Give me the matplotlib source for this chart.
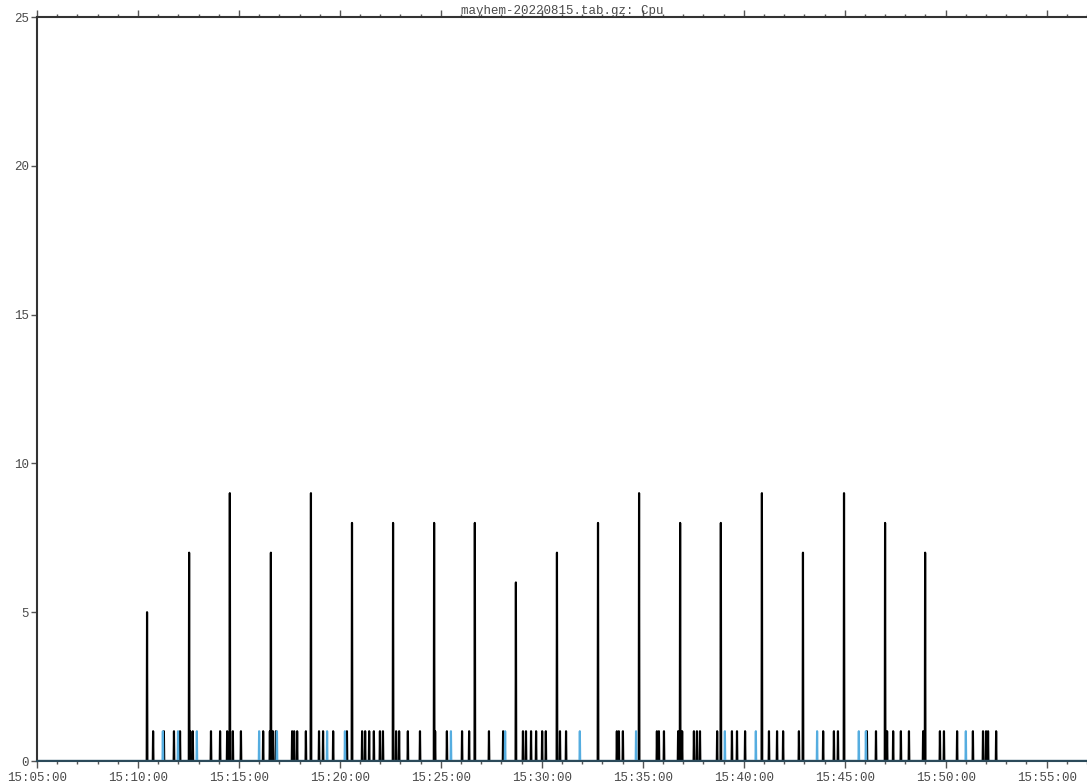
import datetime as dt

import matplotlib
matplotlib.use("Agg")
import matplotlib.pyplot as plt
import matplotlib.dates as mdates
import matplotlib.transforms as mtransforms
import numpy as np

TITLE = "mayhem-20220815.tab.gz: Cpu"
DAY = "2022-08-15"
START = "15:05:00"
END = "15:57:00"

# Busy peaks of the main series (time, percent)
peak_times = ["15:10:27", "15:12:32", "15:14:33", "15:16:35", "15:18:34",
              "15:20:36", "15:22:38", "15:24:40", "15:26:41", "15:28:43",
              "15:30:45", "15:32:47", "15:34:49", "15:36:51", "15:38:52",
              "15:40:54", "15:42:56", "15:44:58", "15:47:00", "15:48:59"]
peak_values = [5, 7, 9, 7, 9, 8, 8, 8, 8, 6, 7, 8, 9, 8, 8, 9, 7, 9, 8, 7]

# Short 1 % blips of the main series
main_blips = ["15:10:45", "15:11:17", "15:11:47", "15:12:05", "15:12:35",
              "15:12:43", "15:13:37", "15:14:04", "15:14:25", "15:14:42",
              "15:15:06", "15:16:12", "15:16:32", "15:16:41", "15:16:50",
              "15:17:38", "15:17:44", "15:17:53", "15:18:19", "15:18:58",
              "15:19:10", "15:19:40", "15:20:21", "15:21:06", "15:21:15",
              "15:21:27", "15:21:41", "15:21:59", "15:22:08", "15:22:47",
              "15:22:56", "15:23:22", "15:23:58", "15:24:43", "15:25:18",
              "15:26:03", "15:26:24", "15:27:23", "15:28:05", "15:29:04",
              "15:29:13", "15:29:28", "15:29:43", "15:30:01", "15:30:12",
              "15:30:54", "15:31:12", "15:33:43", "15:33:49", "15:34:01",
              "15:35:42", "15:35:48", "15:36:03", "15:36:45", "15:36:57",
              "15:37:32", "15:37:41", "15:37:50", "15:38:41", "15:39:25",
              "15:39:40", "15:40:04", "15:41:15", "15:41:39", "15:41:57",
              "15:42:44", "15:43:56", "15:44:28", "15:44:40", "15:46:06",
              "15:46:33", "15:47:06", "15:47:24", "15:47:47", "15:48:11",
              "15:48:53", "15:49:43", "15:49:55", "15:50:34", "15:51:21",
              "15:51:51", "15:52:00", "15:52:06", "15:52:30"]

# Short 1 % blips of the second series
second_blips = ["15:11:14", "15:11:59", "15:12:55", "15:16:00", "15:16:53",
                "15:19:22", "15:20:15", "15:25:30", "15:28:11", "15:31:53",
                "15:34:40", "15:39:04", "15:40:36", "15:43:38", "15:45:42",
                "15:46:03", "15:51:00"]

Y_MAX = 25
Y_TICKS = [0, 5, 10, 15, 20, 25]


def to_dt(hms):
    return dt.datetime.fromisoformat(f"{DAY} {hms}")


t0 = to_dt(START)
t1 = to_dt(END)
n = int((t1 - t0).total_seconds()) + 1
times = [t0 + dt.timedelta(seconds=i) for i in range(n)]


def sample_index(hms):
    return int((to_dt(hms) - t0).total_seconds())


main = np.zeros(n)
for hms in main_blips:
    main[sample_index(hms)] = 1
for hms, v in zip(peak_times, peak_values):
    main[sample_index(hms)] = v

second = np.zeros(n)
for hms in second_blips:
    second[sample_index(hms)] = 1

mono = "Liberation Mono"
text_color = "#4a4a4a"

fig = plt.figure(figsize=(10.87, 7.84), dpi=100)
ax = fig.add_axes([37 / 1087, 1 - 761 / 784, 1 - 37 / 1087, (761 - 17) / 784])

ax.plot(times, main, color="black", lw=1.55, zorder=2)
ax.plot(times, second, color="#55ade0", lw=1.55, zorder=2.1)

ax.set_xlim(t0, t1)
ax.set_ylim(0, Y_MAX)
ax.set_yticks(Y_TICKS)

ax.xaxis.set_major_locator(mdates.MinuteLocator(byminute=range(0, 60, 5)))
ax.xaxis.set_minor_locator(mdates.MinuteLocator())
ax.xaxis.set_major_formatter(mdates.DateFormatter("%H:%M:%S"))

for side in ("left", "top", "bottom"):
    ax.spines[side].set_linewidth(1.5)
ax.spines["left"].set_color("#333333")
ax.spines["top"].set_color("#333333")
ax.spines["bottom"].set_color("#2b4a5a")
ax.spines["right"].set_visible(False)

ax.tick_params(axis="x", which="major", direction="out", length=5, width=1,
               color="#555555", top=True, labeltop=False, pad=3,
               labelsize=9, labelcolor=text_color)
ax.tick_params(axis="x", which="minor", direction="out", length=2.5, width=1,
               color="#555555", top=True)
ax.tick_params(axis="y", which="major", direction="out", length=4, width=1,
               color="#555555", right=False, pad=2,
               labelsize=9, labelcolor=text_color)
for lbl in ax.get_xticklabels() + ax.get_yticklabels():
    lbl.set_fontfamily(mono)

title_tr = mtransforms.offset_copy(ax.transAxes, fig=fig, x=0, y=3, units="dots")
ax.text(0.5, 1.0, TITLE, transform=title_tr, ha="center", va="baseline",
        fontsize=9, family=mono, color=text_color, zorder=5)

fig.savefig("out.png", dpi=100)
